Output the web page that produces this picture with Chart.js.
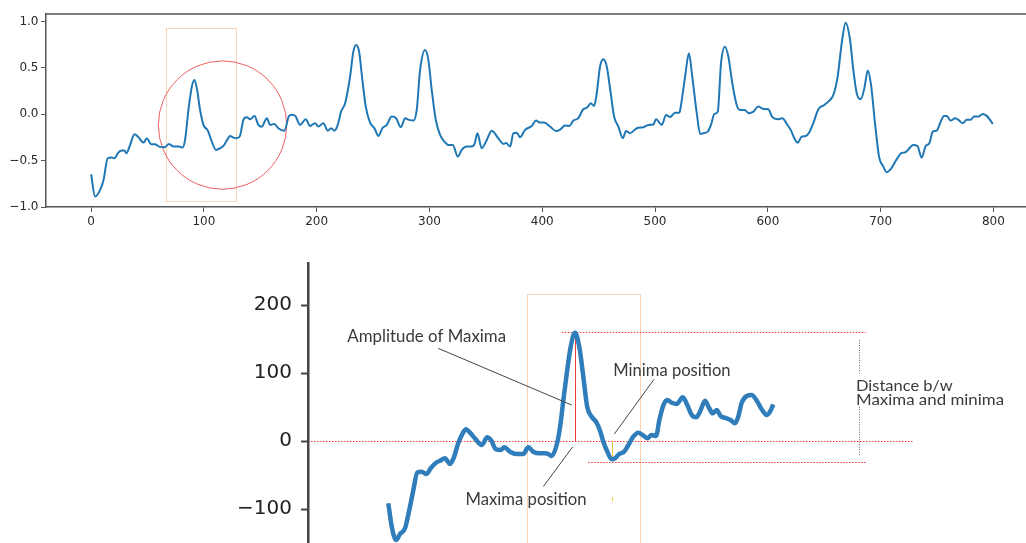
<!DOCTYPE html>
<html>
<head>
<meta charset="utf-8">
<script src="https://cdn.jsdelivr.net/npm/chart.js@4.4.1/dist/chart.umd.min.js"></script>
<style>
  html, body { margin: 0; padding: 0; background: #fff; overflow: hidden; }
  #wrap { position: relative; width: 1026px; height: 543px; overflow: hidden; background: #fff; }
  #c1 { position: absolute; left: 0; top: 0; }
  #c2 { position: absolute; left: 0; top: 230px; }
</style>
</head>
<body>
<div id="wrap">
  <canvas id="c1" width="1060" height="231"></canvas>
  <canvas id="c2" width="1026" height="360"></canvas>
</div>
<script>
// ---------- Top chart data ----------
const topX = [0,3.5,8,11,14.8,18.3,20.6,24.2,27.2,29.5,31.3,34.6,38.4,42,46.4,49.4,53.2,56.7,60.3,65,69.1,73,78,81,83.3,86.3,89.3,91.6,94,96.6,99.6,103.5,107,110.8,114.4,117.3,120.3,123.2,126.2,129.2,132,135,138,141,144.8,148.3,151.3,155.8,158.7,162.5,166,171.4,175.5,178,181,185.3,190.3,194.1,198.6,201.5,205.9,209.8,212.8,215.7,218.7,221.6,225.2,229.6,232.5,234.9,237.6,240.5,243.5,247.3,251.2,254.7,258.2,262.1,266.5,270.4,274.6,278.4,281.9,285.7,288.7,291.7,296.1,299,302,305.6,309.4,313.2,316.8,320.7,325.1,328.6,333,337.5,340,342.5,346.3,350.8,355.2,361,365.5,368,371.5,374.4,377.4,380.3,384.8,390.7,394.5,397.5,401.6,406.9,412.2,415.8,420.2,424,427.6,432,435.9,440,443,446,448.3,451.2,454.2,457.2,460.7,463.7,467.5,471.4,474.3,477.8,483.8,489.6,494,498.5,500.9,505.9,509.8,513.3,517.7,521.6,522.8,526.6,530,533,537,540,542.8,546.7,549.6,552.6,555.6,558.5,562,565,568.5,572.4,575.4,579.3,583.3,587.2,591.6,596,600.4,604,608.7,612.9,616.8,620.6,623.5,626.5,630,633.6,636.8,640.3,644.8,650.1,653.6,658.1,661.9,665.5,669,672.9,675.8,678.8,682.3,685.6,688.6,691.5,695,698.6,702.4,705.4,708.9,713.9,718.3,722,729,732.6,736.4,740,743.2,746.2,749.7,752.7,756.2,758.6,762.1,766,769,772.7,776.3,779.8,782.8,786.6,790.5,794.1,797,799.4];
const topY = [-0.647,-0.888,-0.816,-0.708,-0.474,-0.467,-0.474,-0.413,-0.392,-0.392,-0.42,-0.33,-0.216,-0.248,-0.306,-0.259,-0.323,-0.323,-0.349,-0.356,-0.32,-0.349,-0.349,-0.36,-0.277,0.046,0.297,0.37,0.262,0.046,-0.115,-0.177,-0.295,-0.385,-0.366,-0.342,-0.284,-0.234,-0.252,-0.259,-0.234,-0.061,-0.032,-0.054,-0.018,-0.115,-0.134,-0.043,-0.115,-0.105,-0.151,-0.177,-0.018,-0.005,-0.018,-0.115,-0.054,-0.126,-0.097,-0.133,-0.097,-0.177,-0.151,-0.177,-0.115,0.028,0.118,0.405,0.675,0.747,0.675,0.37,0.082,-0.09,-0.151,-0.234,-0.151,-0.115,-0.026,-0.043,-0.14,-0.043,-0.061,-0.069,0.046,0.477,0.693,0.585,0.262,-0.061,-0.223,-0.295,-0.331,-0.331,-0.457,-0.385,-0.349,-0.349,-0.32,-0.205,-0.366,-0.277,-0.177,-0.259,-0.32,-0.31,-0.349,-0.205,-0.2,-0.248,-0.169,-0.126,-0.069,-0.09,-0.09,-0.133,-0.18,-0.165,-0.123,-0.126,-0.069,-0.043,0.046,0.075,0.118,0.09,0.226,0.513,0.593,0.513,0.226,-0.026,-0.133,-0.259,-0.18,-0.205,-0.151,-0.14,-0.115,-0.11,-0.054,-0.115,-0.008,-0.03,0.017,0.017,0.082,0.4,0.657,0.405,0.011,-0.212,-0.205,-0.188,-0.115,0.003,0.028,0.55,0.728,0.621,0.334,0.1,0.046,0.046,0.011,0.028,0.082,0.057,0.054,-0.032,-0.054,-0.043,-0.105,-0.177,-0.259,-0.306,-0.241,-0.234,-0.194,-0.097,0.054,0.1,0.136,0.208,0.405,0.765,0.987,0.8,0.477,0.226,0.162,0.28,0.47,0.316,-0.097,-0.457,-0.565,-0.625,-0.593,-0.492,-0.42,-0.41,-0.331,-0.342,-0.468,-0.342,-0.313,-0.188,-0.177,-0.097,-0.018,-0.018,-0.069,-0.043,-0.061,-0.097,-0.061,-0.061,-0.026,-0.026,0.003,-0.018,-0.061,-0.105];
const topXTicks = [0,100,200,300,400,500,600,700,800];
const topYTicks = [-1,-0.5,0,0.5,1];
const topYTickLabels = ['\u22121.0','\u22120.5','0.0','0.5','1.0'];

// ---------- Bottom (zoomed) chart data ----------
const zoomX = [0,1.7,3.8,5.7,8.2,10.3,12.3,14.2,16.4,18.8,20.8,23.4,25.4,27.8,30.3,32.2,34.3,36.5,38.1,40.1,42.5,45.8,48.6,50.4,52.8,55.1,56.9,59.7,63,66.2,68.7,71.1,74.1,76.9,78.5,80.2,82.6,84.3,85.9,87.8,89.5,91.6,93.7,95.7,97.6,99.8,101.9,103.9,105.5,107.5,109.6,111.2,113.3,115.7,117.8,120.2,122.7,124.8,127.1,129.2,131.4,133,135,136.9,139.1,141.5,144.5,146.7,148.9,151,153.3,155.4,157.5,159.2,161.1,163.1,166,168,170.1,171.7,173.4,175.9,178.3,180.8,183.2,185.7,187.3,188.9];
const zoomY = [-91.6,-126,-145.6,-136.8,-128.4,-101.5,-72,-46.6,-45.1,-48.5,-40.1,-31.9,-28.9,-25.5,-33.8,-24,-3.4,11.3,17.2,12.2,4,-5.9,5.4,1.5,-12.2,-13.2,-9.3,-15.7,-19.1,-19.1,-9.3,-15.7,-18.1,-18.1,-19.1,-22,-5.9,21,60.3,104.4,138.7,159.3,138.7,94.6,50.4,35.7,28.4,15.1,-1,-15.7,-27,-25.5,-19.1,-15.7,-5.9,6.4,12.2,8.8,4,8.8,7.4,30.9,52.9,60.3,56.3,54.4,64.2,52.9,38.2,34.8,45.6,59.3,48.1,40.7,45.6,36.8,33.4,30.9,26,35.7,56.3,66.2,67.6,59.3,46.6,38.2,43.1,54];
const zoomYTicks = [-100,0,100,200];
const zoomYTickLabels = ['\u2212100','0','100','200'];

// ---------- Annotation geometry (data coordinates) ----------
const topAnn = {
  box: {x1: 66.1, x2: 128.5, y1: 0.932, y2: -0.933},
  circle: {cx: 116.5, cy: -0.117, rx: 56.9}
};
const zoomAnn = {
  box: {x1: 68, x2: 123.4, y1: 216.2, y2: -300},
  redDotted: [
    {x1: -39.4, x2: 257.3, y: 0},
    {x1: 85.1, x2: 234.2, y: 159.6},
    {x1: 98.1, x2: 234.8, y: -30.4}
  ],
  ampLine: {x: 91.8, y1: 0, y2: 159.6},
  minMark: {x: 109.8, y1: 0, y2: -26.5},
  tinyMark: {x: 109.8, y1: -82.8, y2: -87.8},
  distSegs: [{x: 231.2, y1: 148.5, y2: 98.5}, {x: 231.2, y1: 50.4, y2: -22.1}],
  leaders: [
    [[24.5, 136.3], [90, 52.9]],
    [[76.1, -66.9], [90.5, -8.4]],
    [[110.9, 10.3], [130.4, 90.7]]
  ],
  labels: [
    {t: 'Amplitude of Maxima', x: -20.1, y: 146, size: 16.5, w: 158.7},
    {t: 'Minima position', x: 110.4, y: 96, size: 16.5, w: 117.3},
    {t: 'Maxima position', x: 37.9, y: -94.1, size: 16.5, w: 121},
    {t: 'Distance b/w', x: 229.5, y: 73.5, size: 15, w: 96.7},
    {t: 'Maxima and minima', x: 229.5, y: 52.9, size: 15, w: 148}
  ]
};

function line(ctx, x1, y1, x2, y2) {
  ctx.beginPath(); ctx.moveTo(x1, y1); ctx.lineTo(x2, y2); ctx.stroke();
}

const topPlugin = {
  id: 'topAnn',
  beforeDatasetsDraw(chart) {
    const {ctx, chartArea: a, scales: {x, y}} = chart;
    ctx.save();
    ctx.beginPath(); ctx.rect(a.left, a.top, a.right - a.left, a.bottom - a.top); ctx.clip();
    const b = topAnn.box;
    ctx.strokeStyle = 'rgba(242,160,90,0.9)'; ctx.lineWidth = 1; ctx.setLineDash([1, 1]);
    const bx1 = x.getPixelForValue(b.x1), bx2 = x.getPixelForValue(b.x2);
    const by1 = y.getPixelForValue(b.y1), by2 = y.getPixelForValue(b.y2);
    ctx.strokeRect(Math.round(bx1) + 0.5, Math.round(by1) + 0.5, Math.round(bx2 - bx1), Math.round(by2 - by1));
    const c = topAnn.circle;
    const cx = x.getPixelForValue(c.cx), cy = y.getPixelForValue(c.cy);
    const r = x.getPixelForValue(c.cx + c.rx) - cx;
    ctx.setLineDash([]); ctx.strokeStyle = 'rgba(232,80,80,0.9)'; ctx.lineWidth = 1;
    ctx.beginPath(); ctx.arc(cx, cy, r, 0, Math.PI * 2); ctx.stroke();
    ctx.restore();
  },
  afterDraw(chart) {
    const {ctx, chartArea: a} = chart;
    ctx.save();
    ctx.strokeStyle = '#555'; ctx.lineWidth = 1.5;
    line(ctx, a.left, a.top, a.right, a.top);
    line(ctx, a.right, a.top, a.right, a.bottom);
    ctx.restore();
  }
};

const zoomPlugin = {
  id: 'zoomAnn',
  beforeDatasetsDraw(chart) {
    const {ctx, chartArea: a, scales: {x, y}} = chart;
    const X = v => x.getPixelForValue(v), Y = v => y.getPixelForValue(v);
    ctx.save();
    ctx.beginPath(); ctx.rect(a.left + 1, a.top - 40, a.right - a.left, a.bottom - a.top + 40); ctx.clip();
    const b = zoomAnn.box;
    ctx.strokeStyle = 'rgba(242,160,90,0.9)'; ctx.lineWidth = 1; ctx.setLineDash([1, 1]);
    ctx.strokeRect(Math.round(X(b.x1)) + 0.5, Math.round(Y(b.y1)) + 0.5, Math.round(X(b.x2) - X(b.x1)), Math.round(Y(b.y2) - Y(b.y1)));
    ctx.strokeStyle = '#f03a3a'; ctx.setLineDash([1.5, 1.5]);
    zoomAnn.redDotted.forEach(l => {
      const py = Math.round(Y(l.y)) + 0.5;
      line(ctx, X(l.x1), py, X(l.x2), py);
    });
    ctx.strokeStyle = '#666'; ctx.setLineDash([1, 1.5]);
    zoomAnn.distSegs.forEach(s => {
      const px = Math.round(X(s.x)) + 0.5;
      line(ctx, px, Y(s.y1), px, Y(s.y2));
    });
    ctx.setLineDash([]);
    ctx.strokeStyle = '#ee3b3b'; ctx.lineWidth = 1;
    let px = Math.round(X(zoomAnn.ampLine.x)) + 0.5;
    line(ctx, px, Y(zoomAnn.ampLine.y1), px, Y(zoomAnn.ampLine.y2));
    ctx.strokeStyle = '#f2c230';
    px = Math.round(X(zoomAnn.minMark.x)) + 0.5;
    line(ctx, px, Y(zoomAnn.minMark.y1), px, Y(zoomAnn.minMark.y2));
    line(ctx, px, Y(zoomAnn.tinyMark.y1), px, Y(zoomAnn.tinyMark.y2));
    ctx.restore();
  },
  afterDatasetsDraw(chart) {
    const {ctx, scales: {x, y}} = chart;
    const X = v => x.getPixelForValue(v), Y = v => y.getPixelForValue(v);
    ctx.save();
    ctx.strokeStyle = '#444'; ctx.lineWidth = 1;
    zoomAnn.leaders.forEach(l => line(ctx, X(l[0][0]), Y(l[0][1]), X(l[1][0]), Y(l[1][1])));
    ctx.fillStyle = '#3a3a3a'; ctx.textAlign = 'left'; ctx.textBaseline = 'alphabetic';
    zoomAnn.labels.forEach(l => {
      ctx.save();
      ctx.font = l.size + 'px Lato';
      const w = ctx.measureText(l.t).width;
      ctx.translate(X(l.x), Y(l.y));
      ctx.scale(l.w / w, 1);
      ctx.fillText(l.t, 0, 0);
      ctx.restore();
    });
    ctx.restore();
  }
};

Chart.defaults.font.family = 'DejaVu Sans';

new Chart(document.getElementById('c1'), {
  type: 'line',
  data: {
    datasets: [{
      data: topX.map((v, i) => ({x: v, y: topY[i]})),
      borderColor: '#1f77b4', borderWidth: 2, pointRadius: 0, fill: false,
      cubicInterpolationMode: 'monotone'
    }]
  },
  options: {
    responsive: false, animation: false, devicePixelRatio: 1,
    plugins: {legend: {display: false}, tooltip: {enabled: false}},
    layout: {padding: {left: 0, right: 22.6, top: 14, bottom: 0}},
    scales: {
      x: {
        type: 'linear', min: -40, max: 839,
        afterBuildTicks: s => { s.ticks = topXTicks.map(v => ({value: v})); },
        afterFit: s => { s.height = 24; s.paddingLeft = 0; s.paddingRight = 0; },
        grid: {drawOnChartArea: false, drawTicks: true, tickLength: 5, color: '#555', tickColor: '#555', tickWidth: 1},
        border: {display: true, color: '#555', width: 1.5},
        ticks: {padding: 3, color: '#2a2a2a', font: {family: 'DejaVu Sans', size: 12}, maxRotation: 0, autoSkip: false, callback: v => String(v)}
      },
      y: {
        type: 'linear', min: -1.0, max: 1.08,
        afterBuildTicks: s => { s.ticks = topYTicks.map(v => ({value: v})); },
        afterFit: s => { s.width = 46; s.paddingTop = 0; s.paddingBottom = 0; },
        grid: {drawOnChartArea: false, drawTicks: true, tickLength: 5, color: '#555', tickColor: '#555', tickWidth: 1},
        border: {display: true, color: '#555', width: 1.5},
        ticks: {padding: 2.5, color: '#2a2a2a', font: {family: 'DejaVu Sans', size: 12}, autoSkip: false, callback: (v, i) => topYTickLabels[i]}
      }
    }
  },
  plugins: [topPlugin]
});

new Chart(document.getElementById('c2'), {
  type: 'line',
  data: {
    datasets: [{
      data: zoomX.map((v, i) => ({x: v, y: zoomY[i]})),
      borderColor: '#2f7dba', borderWidth: 4.5, pointRadius: 0, fill: false,
      cubicInterpolationMode: 'monotone'
    }]
  },
  options: {
    responsive: false, animation: false, devicePixelRatio: 1,
    plugins: {legend: {display: false}, tooltip: {enabled: false}},
    layout: {padding: {left: 0, right: 0, top: 33, bottom: 13}},
    scales: {
      x: {type: 'linear', min: -39.4, max: 312.9, display: false},
      y: {
        type: 'linear', min: -200, max: 261.8,
        afterBuildTicks: s => { s.ticks = zoomYTicks.map(v => ({value: v})); },
        afterFit: s => { s.width = 308; s.paddingTop = 0; s.paddingBottom = 0; },
        grid: {drawOnChartArea: false, drawTicks: true, tickLength: 7, color: '#444', tickColor: '#444', tickWidth: 2},
        border: {display: true, color: '#444', width: 2.5},
        ticks: {padding: 9, color: '#222', font: {family: 'DejaVu Sans', size: 20}, autoSkip: false, callback: (v, i) => zoomYTickLabels[i]}
      }
    }
  },
  plugins: [zoomPlugin]
});
</script>
</body>
</html>
